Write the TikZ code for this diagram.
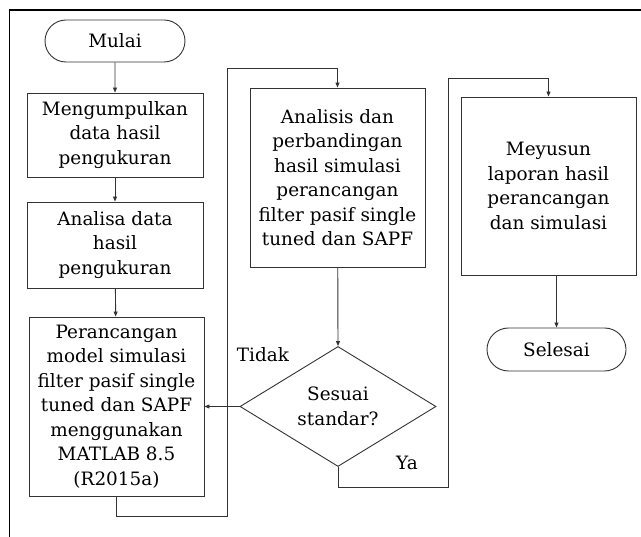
\documentclass[tikz,border=0pt]{standalone}
\usepackage{fontspec}
\setmainfont{DejaVu Serif}
\usetikzlibrary{shapes.geometric,shapes.misc,arrows.meta}
\tikzset{
  lbl/.style={font=\fontsize{18.4}{24.5}\selectfont, align=center},
  procbox/.style={draw=black!80, line width=0.9pt, rectangle, inner sep=0pt, lbl},
  termbox/.style={draw=black!80, line width=0.9pt, rounded rectangle, inner sep=0pt, lbl},
  conn/.style={draw=black!80, line width=0.9pt},
  arr/.style={conn, -{Triangle[length=5pt,width=4pt]}},
}
\begin{document}
\begin{tikzpicture}[x=1pt,y=-1pt]
\useasboundingbox (0,0) rectangle (641,537);
% outer frame
\draw[line width=1.5pt] (9.5,537) -- (9.5,10) -- (641,10);
% nodes
\node[termbox, minimum width=140pt, minimum height=42pt] (mulai) at (115,41) {Mulai};
\node[procbox, minimum width=176pt, minimum height=84pt] (b1) at (115,135) {Mengumpulkan\\data hasil\\pengukuran};
\node[procbox, minimum width=176pt, minimum height=86pt] (b2) at (115,245) {Analisa data\\hasil\\pengukuran};
\node[procbox, minimum width=175pt, minimum height=179pt] (b3) at (116.5,406.5) {Perancangan\\model simulasi\\filter pasif single\\tuned dan SAPF\\menggunakan\\MATLAB 8.5\\(R2015a)};
\node[procbox, minimum width=175pt, minimum height=179pt] (b4) at (337.5,177.5) {Analisis dan\\perbandingan\\hasil simulasi\\perancangan\\filter pasif single\\tuned dan SAPF};
\node[draw=black!80, line width=0.9pt, diamond, inner sep=0pt, minimum width=196pt, minimum height=120pt, shape aspect=1.633] (dia) at (338,406.5) {};
\node[lbl] (diat) at (dia.center) {Sesuai\\standar?};
\node[procbox, minimum width=175pt, minimum height=178pt] (b5) at (548.5,186) {Meyusun\\laporan hasil\\perancangan\\dan simulasi};
\node[termbox, minimum width=139pt, minimum height=43pt] (sel) at (556.5,349.5) {Selesai};
\node[lbl] (tidak) at (263,355) {Tidak};
\node[lbl] (ya) at (407,463) {Ya};
% coordinates for loops
\coordinate (c1) at (227,516);
\coordinate (c2) at (227,68);
\coordinate (d1) at (448,487);
\coordinate (d2) at (448,78);
% connectors
\draw[arr] (mulai) -- (b1);
\draw[arr] (b1) -- (b2);
\draw[arr] (b2) -- (b3);
\draw[arr] (b3.south) |- (c1) -- (c2) -| (b4.north);
\draw[arr] (b4) -- (dia.north);
\draw[arr] (dia.west) -- (b3.east);
\draw[arr] (dia.south) |- (d1) -- (d2) -| (b5.north);
\draw[arr] (sel.north |- b5.south) -- (sel.north);
\end{tikzpicture}
\end{document}
